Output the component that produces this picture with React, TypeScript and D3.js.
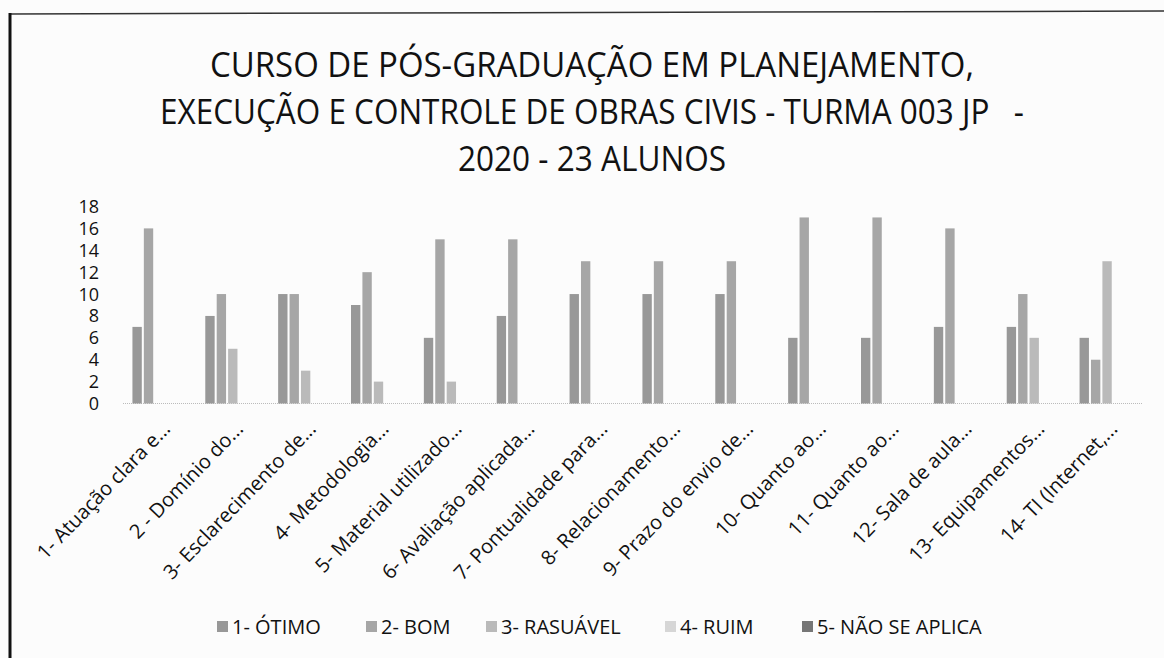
import React, { useEffect, useRef } from 'react';
import * as d3 from 'd3';

const titleLines = [
  'CURSO DE PÓS-GRADUAÇÃO EM PLANEJAMENTO,',
  'EXECUÇÃO E CONTROLE DE OBRAS CIVIS - TURMA 003 JP\u00a0\u00a0\u00a0-',
  '2020 - 23 ALUNOS',
];
// measured widths of the title lines in the picture
const titleWidths = [764, 864, 268];

const categories = [
  '1- Atuação clara e...',
  '2 - Domínio do...',
  '3- Esclarecimento de...',
  '4- Metodologia...',
  '5- Material utilizado...',
  '6- Avaliação aplicada...',
  '7- Pontualidade para...',
  '8- Relacionamento...',
  '9- Prazo do envio de...',
  '10- Quanto ao...',
  '11- Quanto ao...',
  '12- Sala de aula...',
  '13- Equipamentos...',
  '14- TI (Internet,...',
];

const seriesNames = ['1- ÓTIMO', '2- BOM', '3- RASUÁVEL', '4- RUIM', '5- NÃO SE APLICA'];

const otimo = [7, 8, 10, 9, 6, 8, 10, 10, 10, 6, 6, 7, 7, 6];
const bom = [16, 10, 10, 12, 15, 15, 13, 13, 13, 17, 17, 16, 10, 4];
const rasuavel = [0, 5, 3, 2, 2, 0, 0, 0, 0, 0, 0, 0, 6, 13];
const ruim = [0, 0, 0, 0, 0, 0, 0, 0, 0, 0, 0, 0, 0, 0];
const naoSeAplica = [0, 0, 0, 0, 0, 0, 0, 0, 0, 0, 0, 0, 0, 0];

const yTicks = [0, 2, 4, 6, 8, 10, 12, 14, 16, 18];

const colors = ['#989898', '#a6a6a6', '#bababa', '#d6d6d6', '#767676'];

const FONT = '"Open Sans", "Noto Sans", sans-serif';

export default function App() {
  const ref = useRef<SVGSVGElement>(null);

  useEffect(() => {
    const width = 1164;
    const height = 658;
    const svg = d3.select(ref.current);
    svg.html('');
    svg.attr('width', width).attr('height', height);

    svg.append('rect').attr('width', width).attr('height', height).attr('fill', '#fcfcfc');

    // frame
    svg.append('line').attr('x1', 9).attr('x2', width).attr('y1', 14).attr('y2', 11)
      .attr('stroke', '#333').attr('stroke-width', 1.5);
    svg.append('line').attr('x1', 10).attr('x2', 10).attr('y1', 13).attr('y2', height)
      .attr('stroke', '#111').attr('stroke-width', 3);

    // title
    svg.append('g').selectAll('text').data(titleLines).enter().append('text')
      .attr('x', 592)
      .attr('y', (d, i) => 77 + i * 47)
      .attr('text-anchor', 'middle')
      .attr('textLength', (d, i) => titleWidths[i])
      .attr('lengthAdjust', 'spacingAndGlyphs')
      .style('font-family', FONT)
      .style('font-size', '35px')
      .attr('fill', '#111')
      .text(d => d);

    const data = [otimo, bom, rasuavel, ruim, naoSeAplica];

    const x = d3.scaleBand().domain(categories).range([123, 1143]);
    const xs = d3.scaleBand().domain(seriesNames).range([0, 55]).paddingInner(0.18);
    const y = d3.scaleLinear().domain([0, 18]).range([403.5, 206.5]);

    // baseline
    svg.append('line').attr('x1', 123).attr('x2', 1143).attr('y1', y(0)).attr('y2', y(0))
      .attr('stroke', '#bbb').attr('stroke-width', 1).attr('stroke-dasharray', '1,1');

    // y axis labels
    svg.append('g').selectAll('text').data(yTicks).enter().append('text')
      .attr('x', 99)
      .attr('y', d => y(d))
      .attr('dy', '0.36em')
      .attr('text-anchor', 'end')
      .style('font-family', FONT)
      .style('font-size', '18px')
      .attr('fill', '#111')
      .text(d => d);

    // bars
    const groups = svg.append('g').selectAll('g').data(categories).enter().append('g')
      .attr('transform', d => `translate(${x(d)! + x.bandwidth() / 2 - 27},0)`);

    groups.selectAll('rect')
      .data((c, ci) => seriesNames.map((s, si) => ({ s, si, v: data[si][ci] })))
      .enter().append('rect')
      .attr('x', d => xs(d.s)!)
      .attr('width', xs.bandwidth())
      .attr('y', d => y(d.v))
      .attr('height', d => y(0) - y(d.v))
      .attr('fill', d => colors[d.si]);

    // x labels
    svg.append('g').selectAll('text').data(categories).enter().append('text')
      .attr('transform', d => `translate(${x(d)! + x.bandwidth() / 2 + 12},430) rotate(-46)`)
      .attr('text-anchor', 'end')
      .style('font-family', FONT)
      .style('font-size', '20px')
      .attr('fill', '#111')
      .text(d => d);

    // legend
    const legendX = [217, 366, 486, 665, 802];
    const legend = svg.append('g').selectAll('g').data(seriesNames).enter().append('g')
      .attr('transform', (d, i) => `translate(${legendX[i]},621)`);
    legend.append('rect').attr('width', 11).attr('height', 11).attr('fill', (d, i) => colors[i]);
    legend.append('text')
      .attr('x', 15)
      .attr('y', 5.5)
      .attr('dy', '0.36em')
      .style('font-family', FONT)
      .style('font-size', '20px')
      .attr('fill', '#111')
      .text(d => d);
  }, []);

  return (
    <div style={{ position: 'absolute', left: 0, top: 0 }}>
      <svg ref={ref}></svg>
    </div>
  );
}
